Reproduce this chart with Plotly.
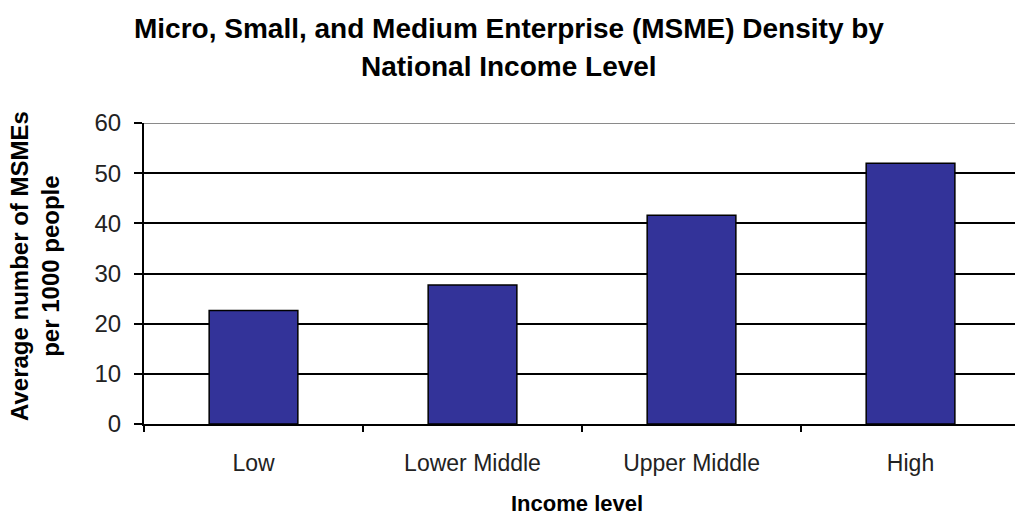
import plotly.graph_objects as go

# Income groups and average MSME density (per 1000 people)
income_levels = ["Low", "Lower Middle", "Upper Middle", "High"]
msme_density = [22.6, 27.7, 41.6, 52.0]
y_ticks = [0, 10, 20, 30, 40, 50, 60]

title_lines = [
    "Micro, Small, and Medium Enterprise (MSME) Density by",
    "National Income Level",
]
y_title = "Average number of MSMEs<br>per 1000 people"
x_title = "Income level"

W, H = 1015, 517
L, R, T, B = 144, 0, 123, 93
PW, PH = W - L - R, H - T - B

fig = go.Figure(
    go.Bar(
        x=income_levels,
        y=msme_density,
        marker=dict(color="#333399", line=dict(color="#000000", width=1.5)),
        width=0.405,
    )
)

fig.update_layout(
    width=W,
    height=H,
    margin=dict(l=L, r=R, t=T, b=B, pad=0),
    paper_bgcolor="white",
    plot_bgcolor="white",
    showlegend=False,
    font=dict(family="Liberation Sans, Arial, sans-serif", color="#222222"),
)

fig.update_xaxes(
    type="category",
    range=[-0.5, 3.477],
    tickson="boundaries",
    ticks="outside",
    ticklen=6,
    tickwidth=2,
    tickcolor="#000000",
    tickfont=dict(size=23, color="#222222"),
    ticklabelstandoff=17,
    showline=True,
    linecolor="#000000",
    linewidth=2,
    showgrid=False,
    zeroline=False,
)

fig.update_yaxes(
    range=[0, 60],
    tickmode="array",
    tickvals=y_ticks,
    ticks="outside",
    ticklen=8,
    tickwidth=2,
    tickcolor="#000000",
    tickfont=dict(size=24, color="#222222"),
    ticklabelstandoff=8,
    showline=True,
    linecolor="#000000",
    linewidth=2,
    showgrid=True,
    gridcolor="#000000",
    gridwidth=2,
    zeroline=False,
)

# Upper border of the plotting area in grey
fig.add_shape(
    type="line", xref="paper", yref="y", x0=0, x1=1, y0=60, y1=60,
    line=dict(color="#8a8a8a", width=2), layer="above",
)

# Two-line chart title
for text, ypx in zip(title_lines, [28, 66]):
    fig.add_annotation(
        text=f"<b>{text}</b>",
        xref="paper", yref="paper",
        x=(509 - L) / PW, y=1 + (T - ypx) / PH,
        xanchor="center", yanchor="middle",
        showarrow=False,
        font=dict(size=28, color="#000000"),
    )

# Vertical axis title
fig.add_annotation(
    text=f"<b>{y_title}</b>",
    xref="paper", yref="paper",
    x=(35 - L) / PW, y=(H - B - 266) / PH,
    xanchor="center", yanchor="middle",
    textangle=-90,
    showarrow=False,
    font=dict(size=24, color="#000000"),
)

# Horizontal axis title
fig.add_annotation(
    text=f"<b>{x_title}</b>",
    xref="paper", yref="paper",
    x=(577 - L) / PW, y=-(503 - (H - B)) / PH,
    xanchor="center", yanchor="middle",
    showarrow=False,
    font=dict(size=22, color="#000000"),
)

fig.write_html("out.html")
